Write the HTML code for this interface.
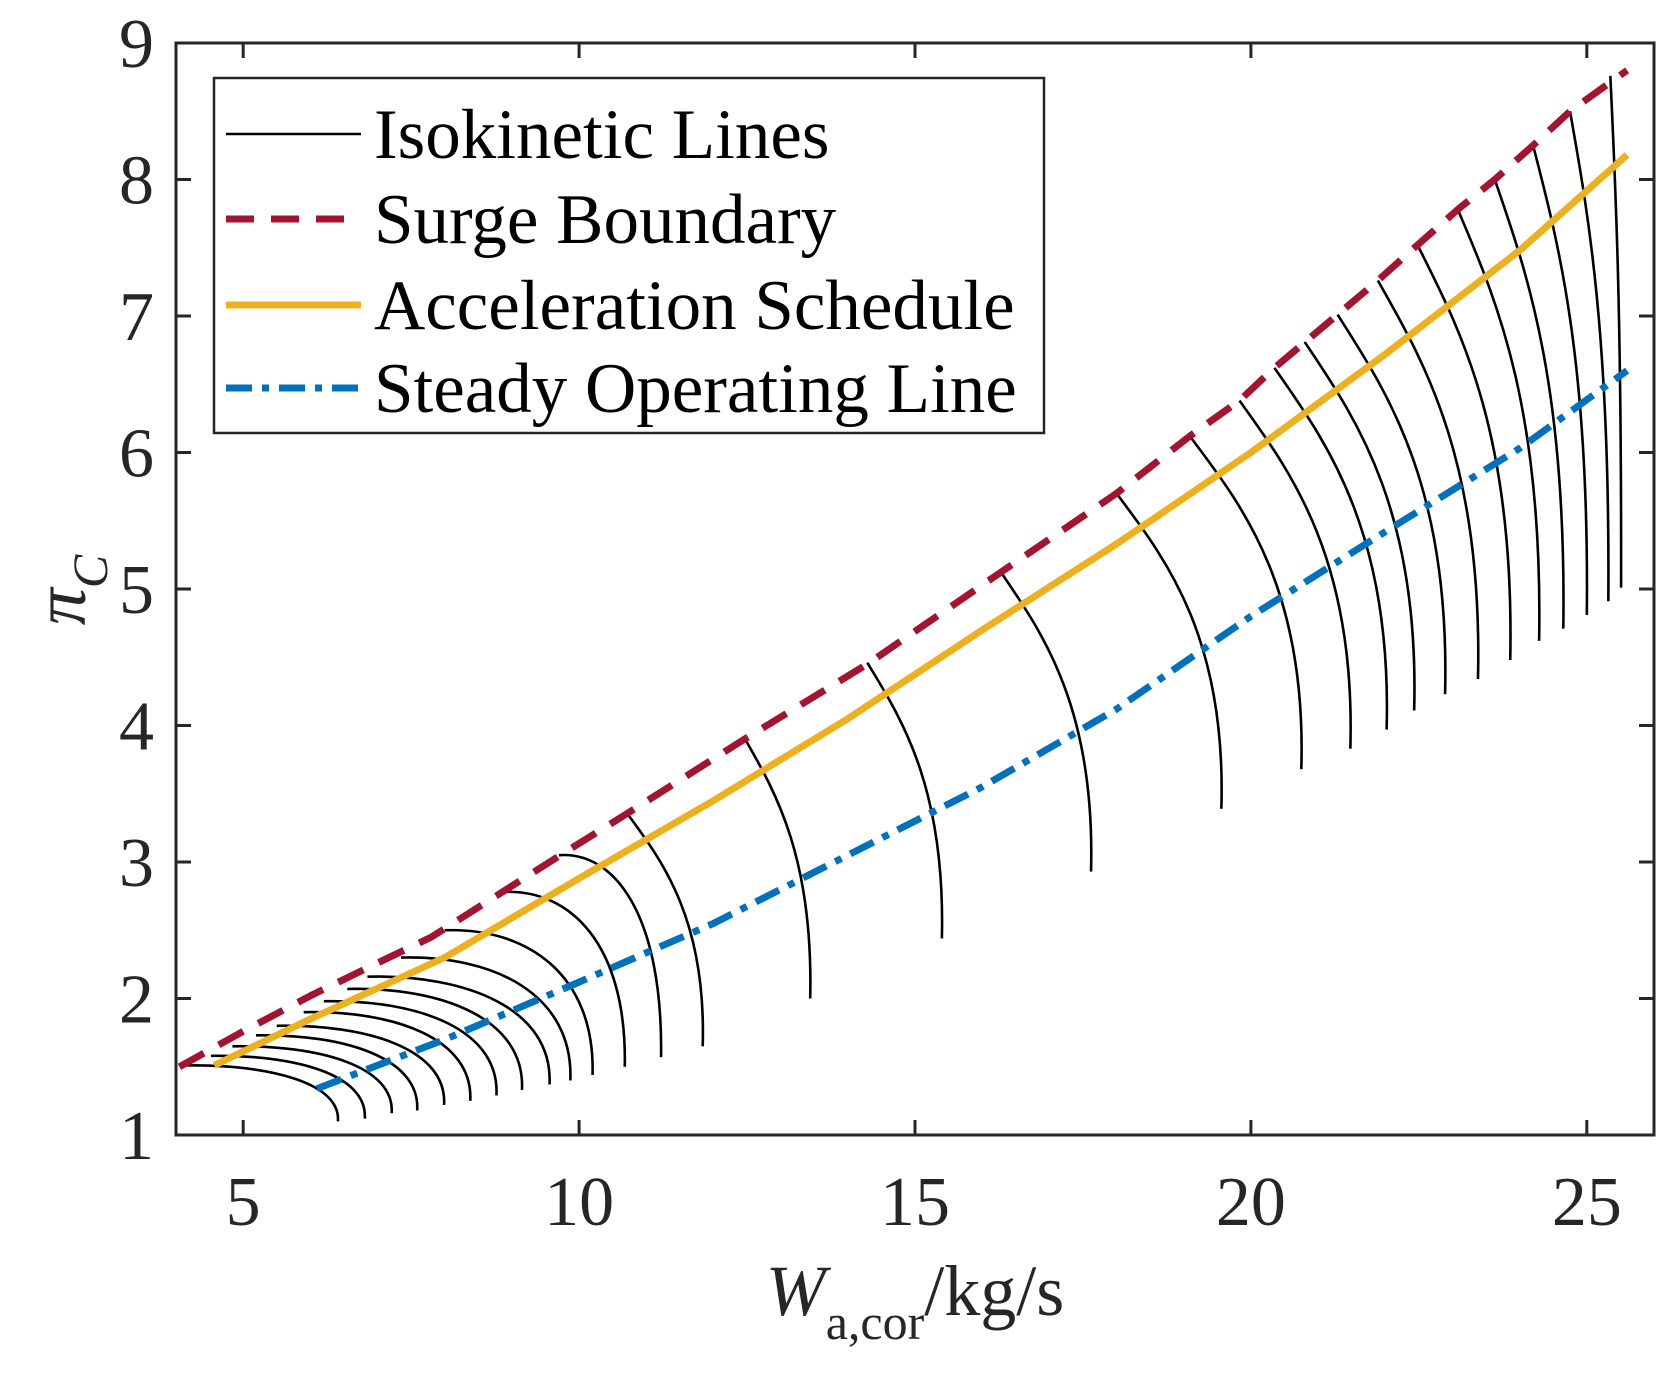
<!DOCTYPE html>
<html><head><meta charset="utf-8"><style>
html,body{margin:0;padding:0;background:#fff;}
svg{display:block;font-family:"Liberation Serif",serif;}
</style></head><body>
<svg id="chart" width="1667" height="1375" viewBox="0 0 1667 1375" xmlns="http://www.w3.org/2000/svg">
<rect width="1667" height="1375" fill="#fff"/>
<g id="plot"></g>
</svg>
<script>
const xTicks=[5,10,15,20,25];
const yTicks=[1,2,3,4,5,6,7,8,9];
const surgeX=[4.05,5,6,7,7.8,9.85,10.7,12.46,14.29,16.27,18.0,19.09,19.83,20.35,21.29,21.89,22.48,23.08,23.63,24.2,24.75,25.6];
const surgeY=[1.5,1.76,2.02,2.26,2.45,3.09,3.35,3.9,4.45,5.12,5.7,6.12,6.38,6.62,7.01,7.26,7.52,7.78,8.0,8.25,8.5,8.8];
const accelX=[4.57,6,8,10,12,14,16,18,20,22,24,25.6];
const accelY=[1.51,1.85,2.3,2.88,3.45,4.05,4.7,5.33,6.0,6.72,7.48,8.18];
const steadyX=[6.1,8,10,12,14,16,18,20,22,24,25.6];
const steadyY=[1.34,1.7,2.12,2.55,3.05,3.55,4.12,4.8,5.42,6.03,6.6];
const isoStartX=[4.09,4.52,4.84,5.19,5.5,5.9,6.2,6.55,6.85,7.35,8.0,8.87,9.7,10.71,12.46,14.29,16.27,18.0,19.09,19.83,20.35,20.8,21.29,21.89,22.48,23.08,23.63,24.2,24.75,25.35];
const isoStartY=[1.51,1.58,1.65,1.73,1.8,1.9,1.98,2.07,2.16,2.3,2.5,2.78,3.05,3.36,3.91,4.46,5.13,5.7,6.12,6.38,6.62,6.81,7.01,7.26,7.52,7.78,8.0,8.25,8.5,8.76];
const isoEndX=[6.41,6.81,7.21,7.59,7.99,8.38,8.77,9.15,9.56,9.87,10.2,10.68,11.22,11.84,13.44,15.4,17.62,19.56,20.75,21.48,22.02,22.43,22.89,23.38,23.86,24.29,24.65,25.0,25.32,25.51];
const isoEndY=[1.1,1.12,1.16,1.18,1.22,1.25,1.29,1.33,1.37,1.4,1.44,1.5,1.57,1.65,2.0,2.44,2.93,3.39,3.68,3.83,3.97,4.11,4.23,4.34,4.48,4.62,4.71,4.81,4.91,5.01];

const L=176,R=1654,T=43,B=1135,X0=4,X1=26,Y0=1,Y1=9;
const sx=v=>L+(v-X0)/(X1-X0)*(R-L);
const sy=v=>B-(v-Y0)/(Y1-Y0)*(B-T);
const NS="http://www.w3.org/2000/svg";
const g=document.getElementById('plot');
function mk(tag,attrs,parent){const e=document.createElementNS(NS,tag);for(const k in attrs)e.setAttribute(k,attrs[k]);(parent||g).appendChild(e);return e;}
function poly(xs,ys){return xs.map((x,i)=>(i?'L':'M')+sx(x).toFixed(1)+' '+sy(ys[i]).toFixed(1)).join(' ');}

const isoG=mk('g',{});


for(let i=0;i<isoStartX.length;i++){
  const x0=sx(isoStartX[i]),y0=sy(isoStartY[i]),x1=sx(isoEndX[i]),y1=sy(isoEndY[i]);
  const dx=x1-x0,dy=y1-y0;
  const lowC=i<13;
  const c1x=x0+dx*(lowC?0.55:0.45), c1y=y0+dy*(lowC?-0.02:0.2);
  const c2x=x1+dx*(lowC?0.02:0.05), c2y=y0+dy*(lowC?0.3:0.45);
  const p=mk('path',{d:`M${x0} ${y0} C${c1x} ${c1y} ${c2x} ${c2y} ${x1} ${y1}`,fill:'none',stroke:'#000','stroke-width':2.6},isoG);
  
  
}
const s1=mk('path',{d:poly(steadyX,steadyY),fill:'none',stroke:'#0072BD','stroke-width':7,'stroke-dasharray':'26 10 7 10','stroke-linejoin':'round'});


const s2=mk('path',{d:poly(accelX,accelY),fill:'none',stroke:'#EDB120','stroke-width':7,'stroke-linejoin':'round'});


const s3=mk('path',{d:poly(surgeX,surgeY),fill:'none',stroke:'#A2142F','stroke-width':7,'stroke-dasharray':'28 17','stroke-linejoin':'round'});



const ax=mk('rect',{x:L,y:T,width:R-L,height:B-T,fill:'none',stroke:'#262626','stroke-width':3});


xTicks.forEach(v=>{
  mk('line',{x1:sx(v),x2:sx(v),y1:B,y2:B-15,stroke:'#262626','stroke-width':3});
  mk('line',{x1:sx(v),x2:sx(v),y1:T,y2:T+15,stroke:'#262626','stroke-width':3});
  const t=mk('text',{x:sx(v),y:B+90,'text-anchor':'middle','font-size':70,fill:'#262626'});
  t.textContent=v;
  
  
});
yTicks.forEach(v=>{
  mk('line',{x1:L,x2:L+15,y1:sy(v),y2:sy(v),stroke:'#262626','stroke-width':3});
  mk('line',{x1:R,x2:R-15,y1:sy(v),y2:sy(v),stroke:'#262626','stroke-width':3});
  const t=mk('text',{x:L-22,y:sy(v)+24,'text-anchor':'end','font-size':70,fill:'#262626'});
  t.textContent=v;
  
  
});
const xt=mk('text',{x:915,y:1315,'text-anchor':'middle','font-size':72,fill:'#262626'});
xt.innerHTML='<tspan font-style="italic">W</tspan><tspan font-size="50" dy="24">a,cor</tspan><tspan dy="-24">/kg/s</tspan>';


const yt=mk('text',{transform:'translate(85,590) rotate(-90)','text-anchor':'middle','font-size':74,fill:'#262626'});
yt.innerHTML='<tspan font-style="italic">π</tspan><tspan font-size="50" font-style="italic" dy="22">C</tspan>';



const lg=mk('g',{});


mk('rect',{x:214,y:78,width:830,height:355,fill:'#fff',stroke:'#262626','stroke-width':2.5},lg);
const legLabels=['Isokinetic Lines','Surge Boundary','Acceleration Schedule','Steady Operating Line'];
const legStyles=[['#000',2.6,''],['#A2142F',7,'28 17'],['#EDB120',7,''],['#0072BD',7,'26 10 7 10']];
const rowsY=[134,219,305,388];
legLabels.forEach((lab,i)=>{
  const e=mk('g',{},lg);
  
  
  const a={x1:226,x2:361,y1:rowsY[i],y2:rowsY[i],stroke:legStyles[i][0],'stroke-width':legStyles[i][1]};
  if(legStyles[i][2])a['stroke-dasharray']=legStyles[i][2];
  mk('line',a,e);
  const t=mk('text',{x:374,y:rowsY[i]+24,'font-size':71,fill:'#000'},e);
  t.textContent=lab;
});
</script>
</body></html>
